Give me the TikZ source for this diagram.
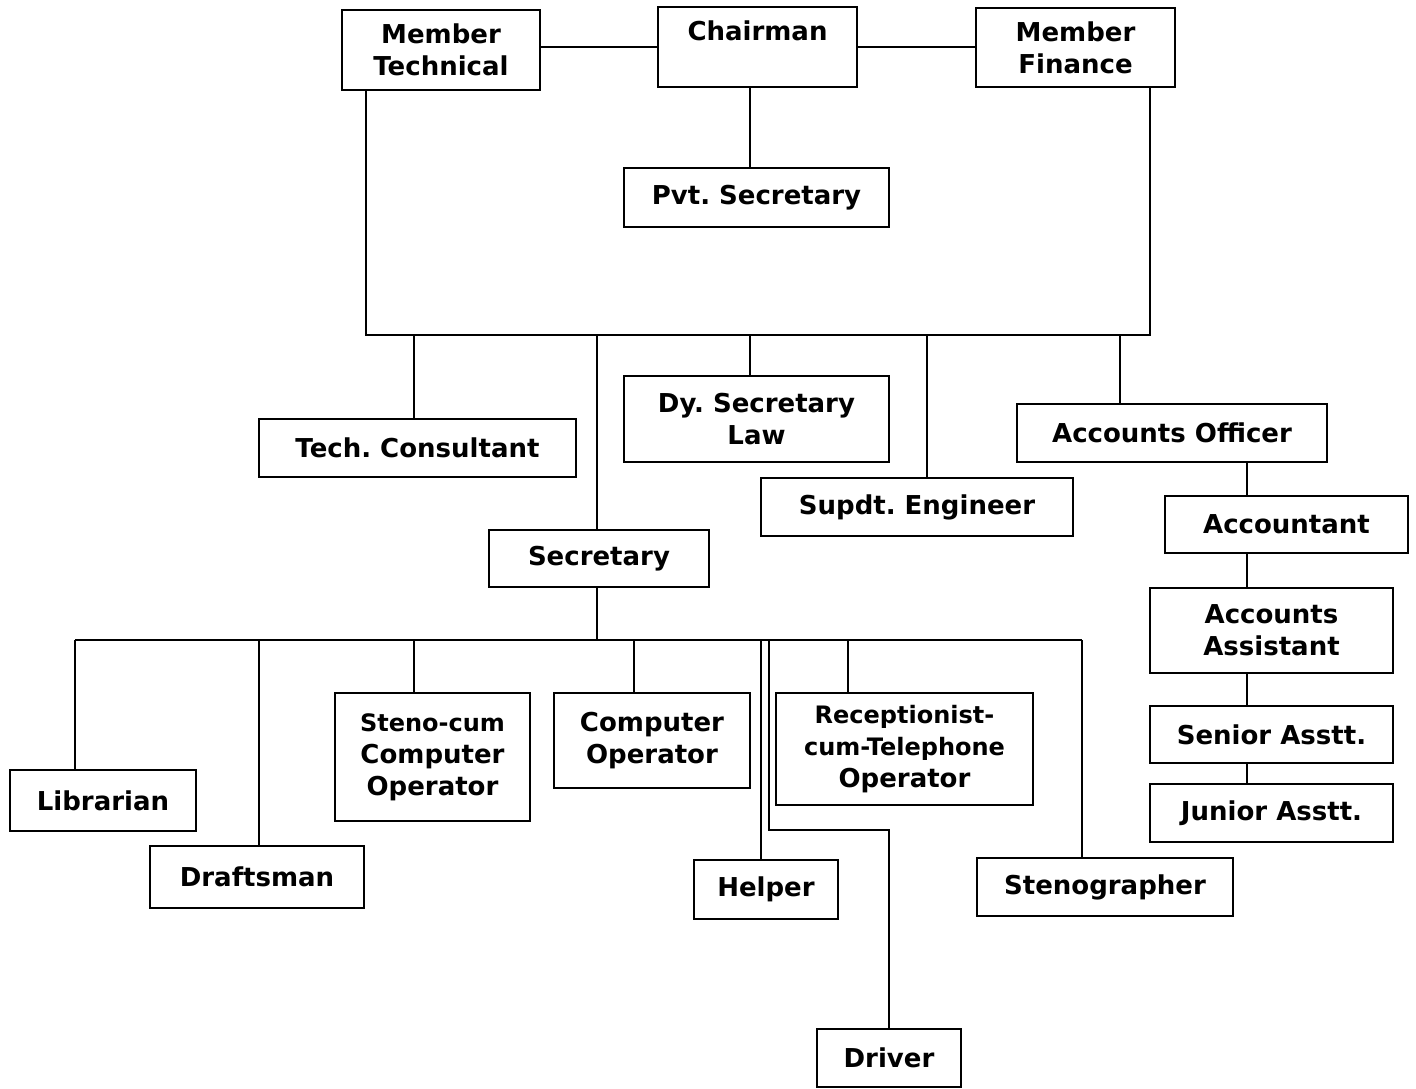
\documentclass[tikz,border=0pt]{standalone}
\usepackage{fontspec}
\setmainfont{DejaVu Sans}

\newcommand\posttext{\fontsize{26}{32}\selectfont\bfseries\frenchspacing}
\newcommand\smallpost{\fontsize{24}{29}\selectfont}

\begin{document}
\begin{tikzpicture}[x=1pt, y=-1pt, font=\posttext]
	\tikzstyle{PostStyle}=[shape = rectangle, draw, line width = 1.7pt, align = center, inner sep = 0pt]
	\tikzstyle{LinkStyle}=[line width = 1.7pt]
	\path[use as bounding box, fill = white] (0,0) rectangle (1416,1089);
	% board
	\node[PostStyle, minimum width = 198pt, minimum height = 80pt] (mt) at (441,50) {Member\\Technical};
	\node[PostStyle, minimum width = 199pt, minimum height = 80pt] (ch) at (757.5,47) {Chairman\\~};
	\node[PostStyle, minimum width = 199pt, minimum height = 79pt] (mf) at (1075.5,47.5) {Member\\Finance};
	\node[PostStyle, minimum width = 265pt, minimum height = 59pt] (ps) at (756.5,197.5) {Pvt. Secretary};
	% officers
	\node[PostStyle, minimum width = 317pt, minimum height = 58pt] (tc) at (417.5,448) {Tech. Consultant};
	\node[PostStyle, minimum width = 265pt, minimum height = 86pt] (dsl) at (756.5,419) {Dy. Secretary\\Law};
	\node[PostStyle, minimum width = 312pt, minimum height = 58pt] (se) at (917,507) {Supdt. Engineer};
	\node[PostStyle, minimum width = 310pt, minimum height = 58pt] (ao) at (1172,433) {Accounts Officer};
	\node[PostStyle, minimum width = 220pt, minimum height = 57pt] (sec) at (599,558.5) {Secretary};
	% accounts
	\node[PostStyle, minimum width = 243pt, minimum height = 57pt] (acc) at (1286.5,524.5) {Accountant};
	\node[PostStyle, minimum width = 243pt, minimum height = 85pt] (aa) at (1271.5,630.5) {Accounts\\Assistant};
	\node[PostStyle, minimum width = 243pt, minimum height = 57pt] (sa) at (1271.5,734.5) {Senior Asstt.};
	\node[PostStyle, minimum width = 243pt, minimum height = 58pt] (ja) at (1271.5,813) {Junior Asstt.};
	% staff
	\node[PostStyle, minimum width = 186pt, minimum height = 61pt] (lib) at (103,800.5) {Librarian};
	\node[PostStyle, minimum width = 214pt, minimum height = 62pt] (dm) at (257,877) {Draftsman};
	\node[PostStyle, minimum width = 195pt, minimum height = 128pt] (sco) at (432.5,757) {{\smallpost Steno-cum}\\Computer\\Operator};
	\node[PostStyle, minimum width = 196pt, minimum height = 95pt] (co) at (652,740.5) {Computer\\Operator};
	\node[PostStyle, minimum width = 144pt, minimum height = 59pt] (hlp) at (766,889.5) {Helper};
	\node[PostStyle, minimum width = 257pt, minimum height = 112pt] (rto) at (904.5,749) {{\smallpost Receptionist-}\\{\smallpost cum-Telephone}\\Operator};
	\node[PostStyle, minimum width = 256pt, minimum height = 58pt] (sg) at (1105,887) {Stenographer};
	\node[PostStyle, minimum width = 144pt, minimum height = 58pt] (drv) at (889,1058) {Driver};
	% junctions
	\coordinate (dCh) at (750,0);
	\coordinate (busL) at (366,335);
	\coordinate (busR) at (1150,335);
	\coordinate (dTC) at (414,335);
	\coordinate (dSec) at (597,335);
	\coordinate (dDSL) at (750,335);
	\coordinate (dSE) at (927,335);
	\coordinate (dAO) at (1120,335);
	\coordinate (spine) at (1247,0);
	\coordinate (sBus) at (597,640);
	\coordinate (dLib) at (75,640);
	\coordinate (dDm) at (259,640);
	\coordinate (dSco) at (414,640);
	\coordinate (dCo) at (634,640);
	\coordinate (dHlp) at (761,640);
	\coordinate (dDrv) at (769,640);
	\coordinate (kDrv) at (769,830);
	\coordinate (dRto) at (848,640);
	\coordinate (dSg) at (1082,640);
	% links
	\draw[LinkStyle] (mt.east |- ch.west) -- (ch.west);
	\draw[LinkStyle] (ch.east) -- (mf.west |- ch.east);
	\draw[LinkStyle] (ch.south -| dCh) -- (ps.north -| dCh);
	\draw[LinkStyle] (mt.south -| busL) -- (busL) -- (busR) -- (mf.south -| busR);
	\draw[LinkStyle] (dTC) -- (dTC |- tc.north);
	\draw[LinkStyle] (dSec) -- (dSec |- sec.north);
	\draw[LinkStyle] (dDSL) -- (dDSL |- dsl.north);
	\draw[LinkStyle] (dSE) -- (dSE |- se.north);
	\draw[LinkStyle] (dAO) -- (dAO |- ao.north);
	\draw[LinkStyle] (ao.south -| spine) -- (acc.north -| spine);
	\draw[LinkStyle] (acc.south -| spine) -- (aa.north -| spine);
	\draw[LinkStyle] (aa.south -| spine) -- (sa.north -| spine);
	\draw[LinkStyle] (sa.south -| spine) -- (ja.north -| spine);
	\draw[LinkStyle] (sBus |- sec.south) -- (sBus);
	\draw[LinkStyle] (dLib) -- (dSg);
	\draw[LinkStyle] (dLib) -- (dLib |- lib.north);
	\draw[LinkStyle] (dDm) -- (dDm |- dm.north);
	\draw[LinkStyle] (dSco) -- (dSco |- sco.north);
	\draw[LinkStyle] (dCo) -- (dCo |- co.north);
	\draw[LinkStyle] (dHlp) -- (dHlp |- hlp.north);
	\draw[LinkStyle] (dDrv) -- (kDrv) -- (kDrv -| drv.north) -- (drv.north);
	\draw[LinkStyle] (dRto) -- (dRto |- rto.north);
	\draw[LinkStyle] (dSg) -- (dSg |- sg.north);
\end{tikzpicture}
\end{document}
